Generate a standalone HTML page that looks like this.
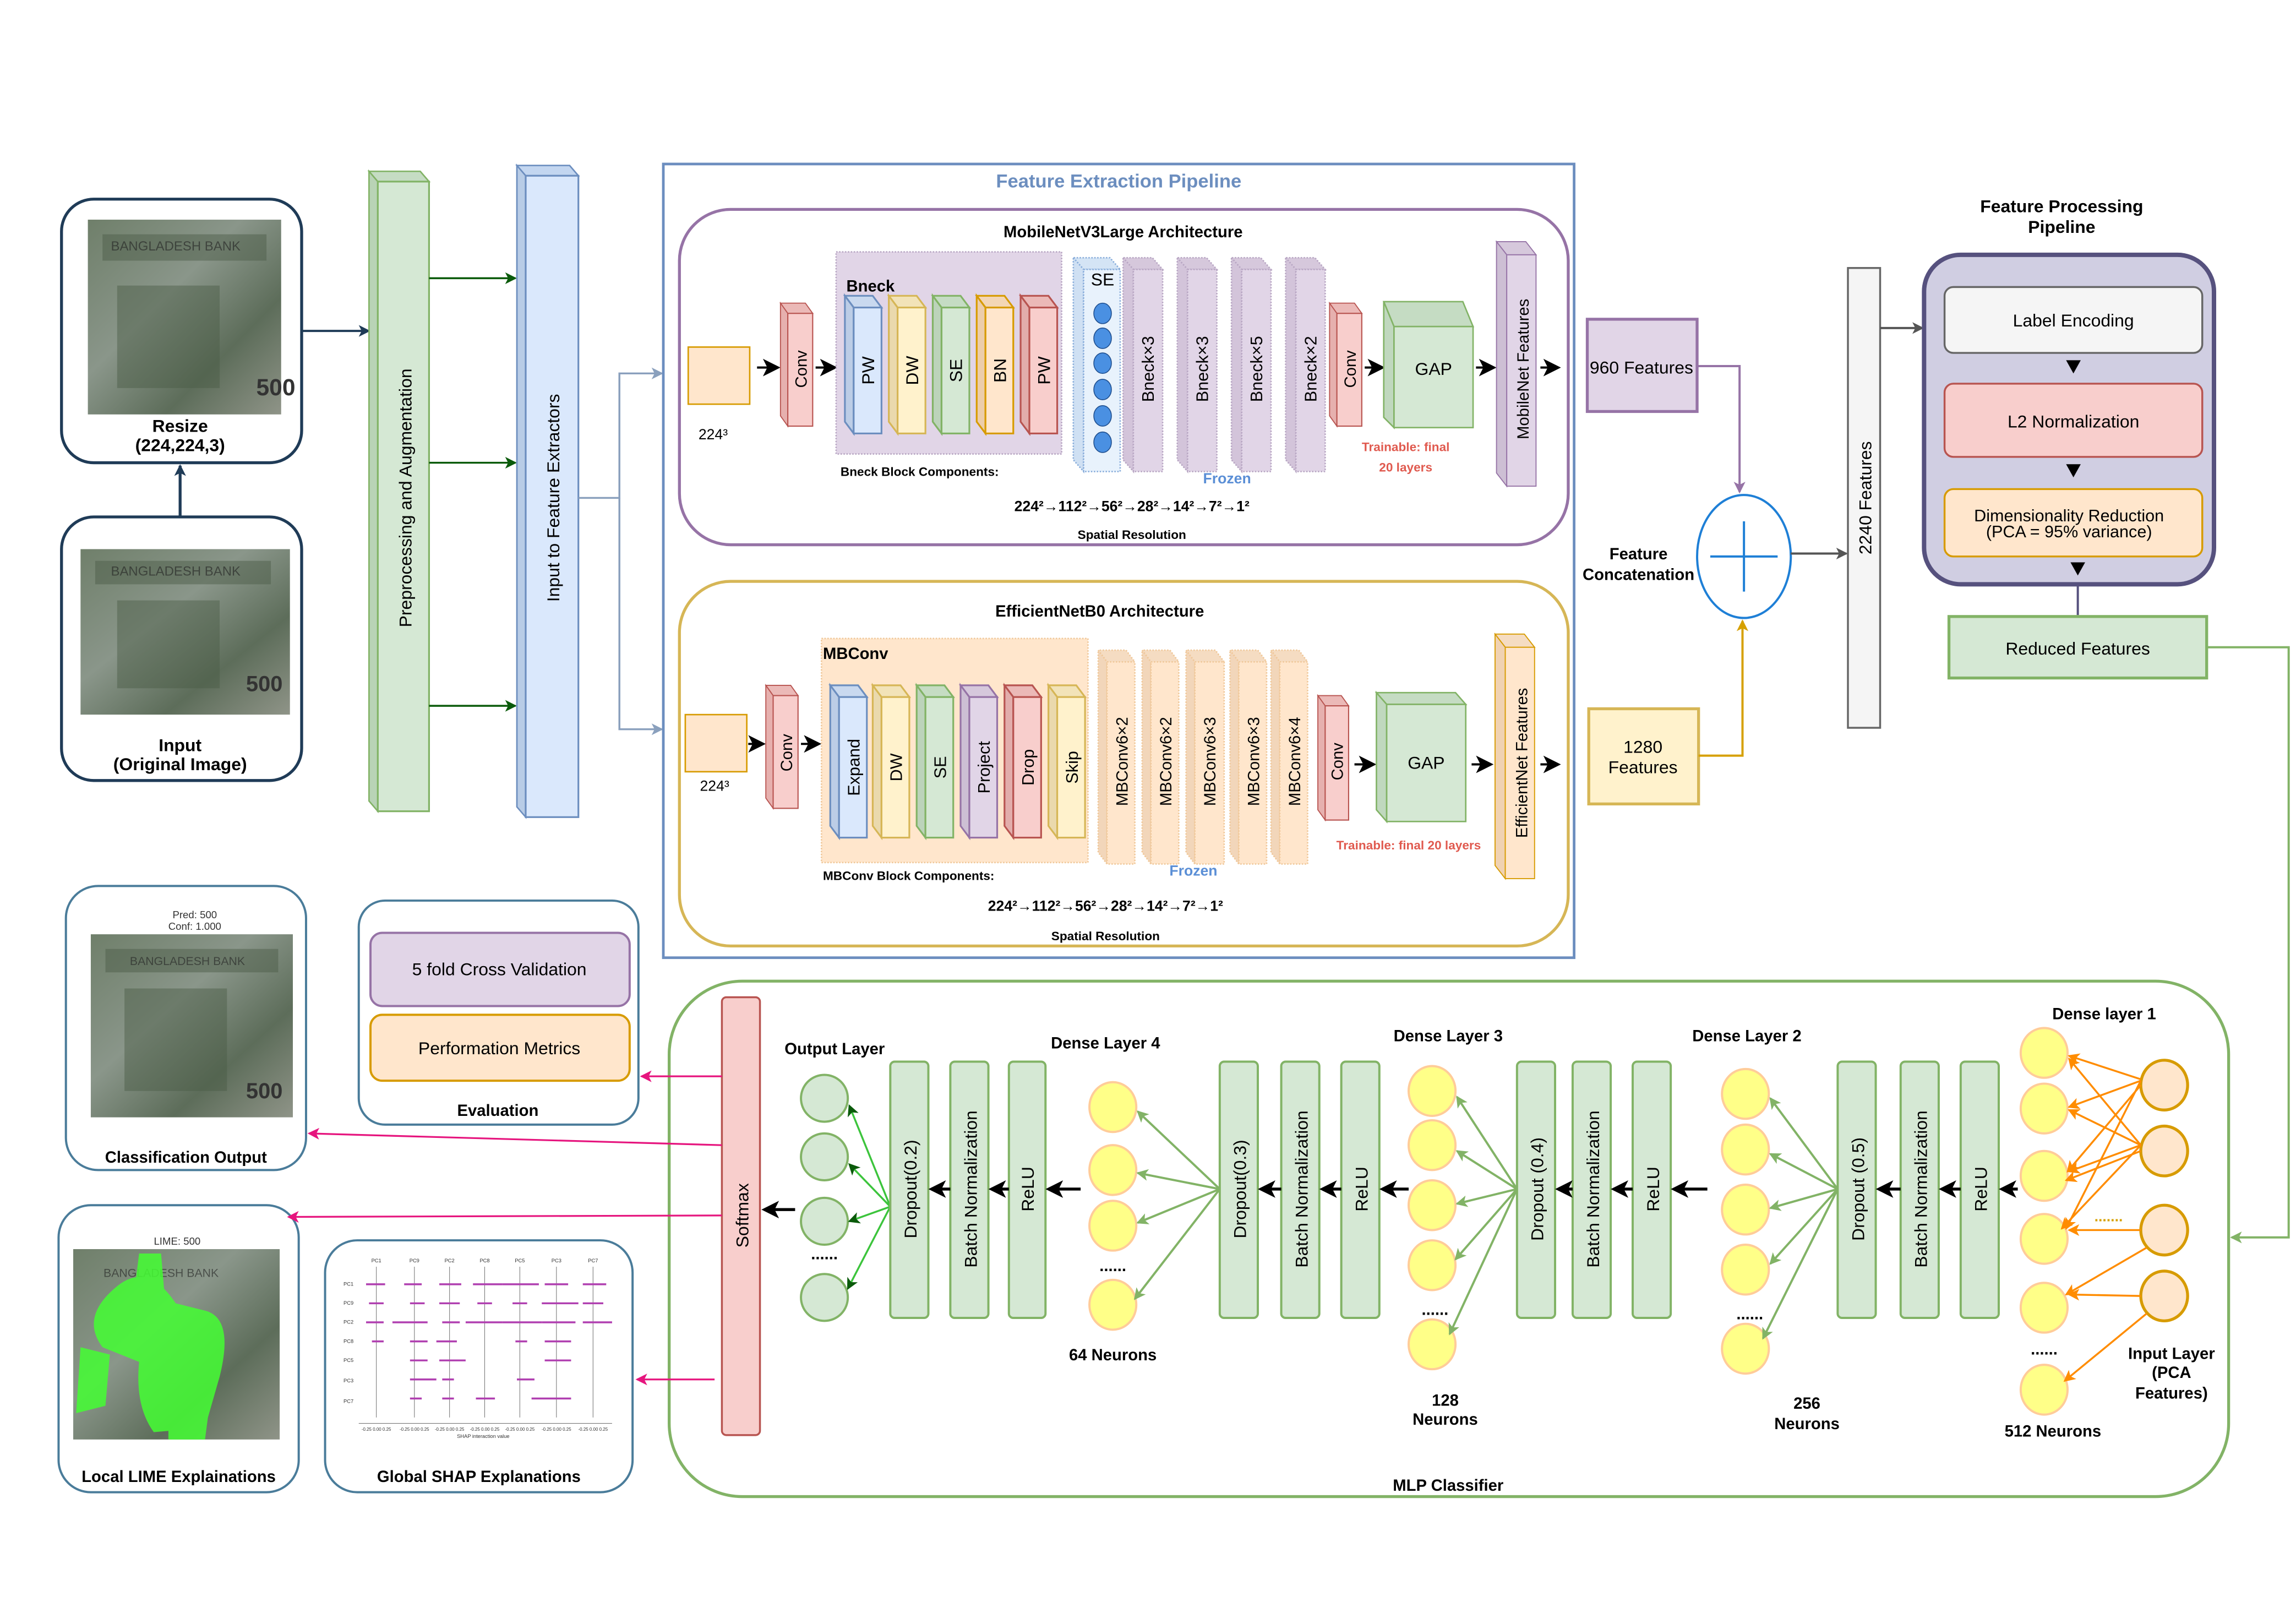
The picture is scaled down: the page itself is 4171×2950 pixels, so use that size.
<!DOCTYPE html>
<html><head><meta charset="utf-8"><style>
html,body{margin:0;padding:0;background:#fff;}
svg{display:block;}
text{font-family:"Liberation Sans",sans-serif;}
.b{font-weight:bold;}
</style></head><body>
<svg width="4171" height="2950" viewBox="0 0 1568 1109" xmlns="http://www.w3.org/2000/svg">
<defs>
<marker id="ak" markerWidth="8" markerHeight="8" refX="7" refY="4" orient="auto" markerUnits="userSpaceOnUse"><path d="M0,0 L8,4 L0,8 L2,4z" fill="#000"/></marker>
<marker id="ad" markerWidth="8" markerHeight="8" refX="7" refY="4" orient="auto" markerUnits="userSpaceOnUse"><path d="M0,0 L8,4 L0,8 L2,4z" fill="#1f3b57"/></marker>
<marker id="ag" markerWidth="8" markerHeight="8" refX="7" refY="4" orient="auto" markerUnits="userSpaceOnUse"><path d="M0,0 L8,4 L0,8 L2,4z" fill="#0a5a0a"/></marker>
<marker id="ab" markerWidth="8" markerHeight="8" refX="7" refY="4" orient="auto" markerUnits="userSpaceOnUse"><path d="M0,0 L8,4 L0,8 L2,4z" fill="#8aa0bd"/></marker>
<marker id="ap" markerWidth="8" markerHeight="8" refX="7" refY="4" orient="auto" markerUnits="userSpaceOnUse"><path d="M0,0 L8,4 L0,8 L2,4z" fill="#9673a6"/></marker>
<marker id="ay" markerWidth="8" markerHeight="8" refX="7" refY="4" orient="auto" markerUnits="userSpaceOnUse"><path d="M0,0 L8,4 L0,8 L2,4z" fill="#d6a000"/></marker>
<marker id="agr" markerWidth="8" markerHeight="8" refX="7" refY="4" orient="auto" markerUnits="userSpaceOnUse"><path d="M0,0 L8,4 L0,8 L2,4z" fill="#555"/></marker>
<marker id="al" markerWidth="8" markerHeight="8" refX="7" refY="4" orient="auto" markerUnits="userSpaceOnUse"><path d="M0,0 L8,4 L0,8 L2,4z" fill="#82b366"/></marker>
<marker id="ao" markerWidth="8" markerHeight="8" refX="7" refY="4" orient="auto" markerUnits="userSpaceOnUse"><path d="M0,0 L8,4 L0,8 L2,4z" fill="#ff8c00"/></marker>
<marker id="am" markerWidth="8" markerHeight="8" refX="7" refY="4" orient="auto" markerUnits="userSpaceOnUse"><path d="M0,0 L8,4 L0,8 L2,4z" fill="#e6157e"/></marker>
<marker id="abig" markerWidth="12" markerHeight="12" refX="10" refY="6" orient="auto" markerUnits="userSpaceOnUse"><path d="M0,0 L12,6 L0,12 L3,6z" fill="#000"/></marker>
<linearGradient id="note" x1="0" y1="0" x2="1" y2="1"><stop offset="0" stop-color="#6f7f6a"/><stop offset="0.4" stop-color="#8a968a"/><stop offset="0.7" stop-color="#5d6d5a"/><stop offset="1" stop-color="#8f9488"/></linearGradient>
</defs>

<!-- Resize / Input -->
<rect x="42" y="136" width="164" height="180" rx="22" fill="#fff" stroke="#1f3b57" stroke-width="2"/>
<rect x="60" y="150" width="132" height="133" fill="url(#note)"/>
<rect x="70" y="160" width="112" height="18" fill="#4d5d4a" opacity="0.5"/>
<text x="120" y="171" font-size="9" fill="#222" opacity="0.6" text-anchor="middle">BANGLADESH BANK</text>
<rect x="80" y="195" width="70" height="70" fill="#4a5a44" opacity="0.45"/>
<text x="175" y="270" font-size="16" fill="#333" class="b">500</text>
<text x="123" y="295" font-size="12" class="b" text-anchor="middle">Resize</text>
<text x="123" y="308" font-size="12" class="b" text-anchor="middle">(224,224,3)</text>

<rect x="42" y="353" width="164" height="180" rx="22" fill="#fff" stroke="#1f3b57" stroke-width="2"/>
<rect x="55" y="375" width="143" height="113" fill="url(#note)"/>
<rect x="65" y="383" width="120" height="16" fill="#4d5d4a" opacity="0.5"/>
<text x="120" y="393" font-size="9" fill="#222" opacity="0.6" text-anchor="middle">BANGLADESH BANK</text>
<rect x="80" y="410" width="70" height="60" fill="#4a5a44" opacity="0.45"/>
<text x="168" y="472" font-size="15" fill="#333" class="b">500</text>
<text x="123" y="513" font-size="12" class="b" text-anchor="middle">Input</text>
<text x="123" y="526" font-size="12" class="b" text-anchor="middle">(Original Image)</text>
<line x1="123" y1="353" x2="123" y2="318" stroke="#1f3b57" stroke-width="2" marker-end="url(#ad)"/>
<line x1="206" y1="226" x2="252" y2="226" stroke="#1f3b57" stroke-width="1.5" marker-end="url(#ad)"/>

<!-- Preprocessing bar -->
<polygon points="252,117 258,124 293,124 287,117" fill="#c5dcc3" stroke="#82b366"/>
<polygon points="252,117 258,124 258,554 252,547" fill="#b9d3b6" stroke="#82b366"/>
<rect x="258" y="124" width="35" height="430" fill="#d5e8d4" stroke="#82b366" stroke-width="1.2"/>
<text transform="translate(281,340) rotate(-90)" font-size="12" text-anchor="middle">Preprocessing and Augmentation</text>
<line x1="293" y1="190" x2="352" y2="190" stroke="#0a5a0a" stroke-width="1.3" marker-end="url(#ag)"/>
<line x1="293" y1="316" x2="352" y2="316" stroke="#0a5a0a" stroke-width="1.3" marker-end="url(#ag)"/>
<line x1="293" y1="482" x2="352" y2="482" stroke="#0a5a0a" stroke-width="1.3" marker-end="url(#ag)"/>

<!-- Input to Feature Extractors -->
<polygon points="353,113 359,120 395,120 389,113" fill="#c3d6f0" stroke="#6c8ebf"/>
<polygon points="353,113 359,120 359,558 353,551" fill="#b8cce6" stroke="#6c8ebf"/>
<rect x="359" y="120" width="36" height="438" fill="#dae8fc" stroke="#6c8ebf" stroke-width="1.2"/>
<text transform="translate(382,340) rotate(-90)" font-size="12" text-anchor="middle">Input to Feature Extractors</text>
<polyline points="395,340 423,340 423,255 452,255" fill="none" stroke="#8aa0bd" stroke-width="1.3" marker-end="url(#ab)"/>
<polyline points="423,340 423,498 452,498" fill="none" stroke="#8aa0bd" stroke-width="1.3" marker-end="url(#ab)"/>

<!-- Feature Extraction Pipeline -->
<rect x="453" y="112" width="622" height="542" fill="none" stroke="#6c8ebf" stroke-width="1.8"/>
<text x="764" y="128" font-size="13" fill="#6c8ebf" class="b" text-anchor="middle">Feature Extraction Pipeline</text>

<!-- MobileNet -->
<rect x="464" y="143" width="607" height="229" rx="35" fill="#fff" stroke="#9673a6" stroke-width="2"/>
<text x="767" y="162" font-size="11" class="b" text-anchor="middle">MobileNetV3Large Architecture</text>
<rect x="470" y="237" width="42" height="39" fill="#ffe6cc" stroke="#d79b00"/>
<text x="487" y="300" font-size="10" text-anchor="middle">224³</text>
<line x1="517" y1="251" x2="531" y2="251" stroke="#000" stroke-width="1.5" marker-end="url(#abig)"/>
<!-- Conv -->
<polygon points="533,207 538,214 555,214 550,207" fill="#ebb9b7" stroke="#b85450" stroke-width="0.7"/>
<polygon points="533,207 538,214 538,291 533,284" fill="#e6b0ae" stroke="#b85450" stroke-width="0.7"/>
<rect x="538" y="214" width="17" height="77" fill="#f8cecc" stroke="#b85450" stroke-width="0.8"/>
<text transform="translate(551,252) rotate(-90)" font-size="11" text-anchor="middle">Conv</text>
<line x1="557" y1="251" x2="570" y2="251" stroke="#000" stroke-width="1.5" marker-end="url(#abig)"/>
<rect x="571" y="172" width="154" height="138" fill="#e1d5e7" stroke="#b9a7c4" stroke-dasharray="1,1"/>
<text x="578" y="199" font-size="11" class="b">Bneck</text>
<!-- Bneck components -->
<g stroke-width="1.2">
<polygon points="577,202 583,210 602,210 596,202" fill="#c9d9ef" stroke="#6c8ebf"/><polygon points="577,202 583,210 583,296 577,288" fill="#bccde6" stroke="#6c8ebf"/><rect x="583" y="210" width="19" height="86" fill="#dae8fc" stroke="#6c8ebf"/>
<polygon points="607,202 613,210 632,210 626,202" fill="#f2e3b8" stroke="#d6b656"/><polygon points="607,202 613,210 613,296 607,288" fill="#ead9ad" stroke="#d6b656"/><rect x="613" y="210" width="19" height="86" fill="#fff2cc" stroke="#d6b656"/>
<polygon points="637,202 643,210 662,210 656,202" fill="#c5dcc3" stroke="#82b366"/><polygon points="637,202 643,210 643,296 637,288" fill="#bcd3ba" stroke="#82b366"/><rect x="643" y="210" width="19" height="86" fill="#d5e8d4" stroke="#82b366"/>
<polygon points="667,202 673,210 692,210 686,202" fill="#f3d6b5" stroke="#d79b00"/><polygon points="667,202 673,210 673,296 667,288" fill="#eccdaa" stroke="#d79b00"/><rect x="673" y="210" width="19" height="86" fill="#ffe6cc" stroke="#d79b00"/>
<polygon points="697,202 703,210 722,210 716,202" fill="#ebb9b7" stroke="#b85450"/><polygon points="697,202 703,210 703,296 697,288" fill="#e2adab" stroke="#b85450"/><rect x="703" y="210" width="19" height="86" fill="#f8cecc" stroke="#b85450"/>
</g>
<g font-size="12" text-anchor="middle">
<text transform="translate(597,253) rotate(-90)">PW</text>
<text transform="translate(627,253) rotate(-90)">DW</text>
<text transform="translate(657,253) rotate(-90)">SE</text>
<text transform="translate(687,253) rotate(-90)">BN</text>
<text transform="translate(717,253) rotate(-90)">PW</text>
</g>
<!-- SE column -->
<polygon points="733,176 740,184 765,184 758,176" fill="#d4e4f5" stroke="#8aaedb" stroke-dasharray="1,1"/>
<polygon points="733,176 740,184 740,322 733,314" fill="#cfe0f3" stroke="#8aaedb" stroke-dasharray="1,1"/>
<rect x="740" y="184" width="25" height="138" fill="#e8f2fc" stroke="#8aaedb" stroke-dasharray="1,1"/>
<text x="753" y="195" font-size="12" text-anchor="middle">SE</text>
<g fill="#4a90e2" stroke="#1f4f8f" stroke-width="0.6">
<ellipse cx="753" cy="214" rx="6" ry="7"/><ellipse cx="753" cy="231" rx="6" ry="7"/><ellipse cx="753" cy="248" rx="6" ry="7"/><ellipse cx="753" cy="266" rx="6" ry="7"/><ellipse cx="753" cy="284" rx="6" ry="7"/><ellipse cx="753" cy="302" rx="6" ry="7"/>
</g>
<!-- Bneck x N -->
<g fill="#e1d5e7" stroke="#b9a7c4" stroke-dasharray="1,1">
<polygon points="767,176 774,184 794,184 787,176" fill="#d6c8dc"/><polygon points="767,176 774,184 774,322 767,314" fill="#d3c4da"/><rect x="774" y="184" width="20" height="138"/>
<polygon points="804,176 811,184 831,184 824,176" fill="#d6c8dc"/><polygon points="804,176 811,184 811,322 804,314" fill="#d3c4da"/><rect x="811" y="184" width="20" height="138"/>
<polygon points="841,176 848,184 868,184 861,176" fill="#d6c8dc"/><polygon points="841,176 848,184 848,322 841,314" fill="#d3c4da"/><rect x="848" y="184" width="20" height="138"/>
<polygon points="878,176 885,184 905,184 898,176" fill="#d6c8dc"/><polygon points="878,176 885,184 885,322 878,314" fill="#d3c4da"/><rect x="885" y="184" width="20" height="138"/>
</g>
<g font-size="11.5" text-anchor="middle">
<text transform="translate(788,252) rotate(-90)">Bneck×3</text>
<text transform="translate(825,252) rotate(-90)">Bneck×3</text>
<text transform="translate(862,252) rotate(-90)">Bneck×5</text>
<text transform="translate(899,252) rotate(-90)">Bneck×2</text>
</g>
<text x="838" y="330" font-size="10" fill="#5b8fd6" class="b" text-anchor="middle">Frozen</text>
<polygon points="908,207 913,214 930,214 925,207" fill="#ebb9b7" stroke="#b85450" stroke-width="0.7"/>
<polygon points="908,207 913,214 913,291 908,284" fill="#e6b0ae" stroke="#b85450" stroke-width="0.7"/>
<rect x="913" y="214" width="17" height="77" fill="#f8cecc" stroke="#b85450" stroke-width="0.8"/>
<text transform="translate(926,252) rotate(-90)" font-size="11" text-anchor="middle">Conv</text>
<line x1="932" y1="251" x2="944" y2="251" stroke="#000" stroke-width="1.5" marker-end="url(#abig)"/>
<polygon points="945,206 952,223 1006,223 999,206" fill="#c5dcc3" stroke="#82b366"/>
<polygon points="945,206 952,223 952,292 945,285" fill="#c0d8be" stroke="#82b366"/>
<rect x="952" y="223" width="54" height="69" fill="#d5e8d4" stroke="#82b366"/>
<text x="979" y="256" font-size="12" text-anchor="middle">GAP</text>
<line x1="1008" y1="251" x2="1020" y2="251" stroke="#000" stroke-width="1.5" marker-end="url(#abig)"/>
<text x="960" y="308" font-size="8.5" fill="#e05a4f" class="b" text-anchor="middle">Trainable: final</text>
<text x="960" y="322" font-size="8.5" fill="#e05a4f" class="b" text-anchor="middle">20 layers</text>
<polygon points="1022,165 1029,174 1049,174 1042,165" fill="#d6c8dc" stroke="#9673a6" stroke-width="0.7"/>
<polygon points="1022,165 1029,174 1029,332 1022,323" fill="#cdbfd4" stroke="#9673a6" stroke-width="0.7"/>
<rect x="1029" y="174" width="20" height="158" fill="#e1d5e7" stroke="#9673a6" stroke-width="0.7"/>
<text transform="translate(1044,252) rotate(-90)" font-size="11" text-anchor="middle">MobileNet Features</text>
<line x1="1052" y1="251" x2="1064" y2="251" stroke="#000" stroke-width="1.5" marker-end="url(#abig)"/>
<text x="574" y="325" font-size="8.5" class="b">Bneck Block Components:</text>
<text x="773" y="349" font-size="10" class="b" text-anchor="middle">224²→112²→56²→28²→14²→7²→1²</text>
<text x="773" y="368" font-size="8.5" class="b" text-anchor="middle">Spatial Resolution</text>

<!-- EfficientNet -->
<rect x="464" y="397" width="607" height="249" rx="35" fill="#fff" stroke="#d6b656" stroke-width="2"/>
<text x="751" y="421" font-size="11" class="b" text-anchor="middle">EfficientNetB0 Architecture</text>
<rect x="468" y="488" width="42" height="39" fill="#ffe6cc" stroke="#d79b00"/>
<text x="488" y="540" font-size="10" text-anchor="middle">224³</text>
<line x1="511" y1="508" x2="521" y2="508" stroke="#000" stroke-width="1.5" marker-end="url(#abig)"/>
<polygon points="523,468 528,475 545,475 540,468" fill="#ebb9b7" stroke="#b85450" stroke-width="0.7"/>
<polygon points="523,468 528,475 528,552 523,545" fill="#e6b0ae" stroke="#b85450" stroke-width="0.7"/>
<rect x="528" y="475" width="17" height="77" fill="#f8cecc" stroke="#b85450" stroke-width="0.8"/>
<text transform="translate(541,514) rotate(-90)" font-size="11" text-anchor="middle">Conv</text>
<line x1="547" y1="508" x2="559" y2="508" stroke="#000" stroke-width="1.5" marker-end="url(#abig)"/>
<rect x="561" y="436" width="182" height="153" fill="#ffe6cc" stroke="#f0c89a" stroke-dasharray="1,1"/>
<text x="562" y="450" font-size="11" class="b">MBConv</text>
<g stroke-width="1.2">
<polygon points="567,468 573,476 592,476 586,468" fill="#c9d9ef" stroke="#6c8ebf"/><polygon points="567,468 573,476 573,572 567,564" fill="#bccde6" stroke="#6c8ebf"/><rect x="573" y="476" width="19" height="96" fill="#dae8fc" stroke="#6c8ebf"/>
<polygon points="596,468 602,476 621,476 615,468" fill="#f2e3b8" stroke="#d6b656"/><polygon points="596,468 602,476 602,572 596,564" fill="#ead9ad" stroke="#d6b656"/><rect x="602" y="476" width="19" height="96" fill="#fff2cc" stroke="#d6b656"/>
<polygon points="626,468 632,476 651,476 645,468" fill="#c5dcc3" stroke="#82b366"/><polygon points="626,468 632,476 632,572 626,564" fill="#bcd3ba" stroke="#82b366"/><rect x="632" y="476" width="19" height="96" fill="#d5e8d4" stroke="#82b366"/>
<polygon points="656,468 662,476 681,476 675,468" fill="#d6c8dc" stroke="#9673a6"/><polygon points="656,468 662,476 662,572 656,564" fill="#cdbfd4" stroke="#9673a6"/><rect x="662" y="476" width="19" height="96" fill="#e1d5e7" stroke="#9673a6"/>
<polygon points="686,468 692,476 711,476 705,468" fill="#ebb9b7" stroke="#b85450"/><polygon points="686,468 692,476 692,572 686,564" fill="#e2adab" stroke="#b85450"/><rect x="692" y="476" width="19" height="96" fill="#f8cecc" stroke="#b85450"/>
<polygon points="716,468 722,476 741,476 735,468" fill="#f2e3b8" stroke="#d6b656"/><polygon points="716,468 722,476 722,572 716,564" fill="#ead9ad" stroke="#d6b656"/><rect x="722" y="476" width="19" height="96" fill="#fff2cc" stroke="#d6b656"/>
</g>
<g font-size="11.5" text-anchor="middle">
<text transform="translate(587,524) rotate(-90)">Expand</text>
<text transform="translate(616,524) rotate(-90)">DW</text>
<text transform="translate(646,524) rotate(-90)">SE</text>
<text transform="translate(676,524) rotate(-90)">Project</text>
<text transform="translate(706,524) rotate(-90)">Drop</text>
<text transform="translate(736,524) rotate(-90)">Skip</text>
</g>
<g fill="#ffe6cc" stroke="#f0c89a" stroke-dasharray="1,1">
<polygon points="750,444 756,452 775,452 769,444" fill="#f5dcc2"/><polygon points="750,444 756,452 756,590 750,582" fill="#f2d6ba"/><rect x="756" y="452" width="19" height="138"/>
<polygon points="780,444 786,452 805,452 799,444" fill="#f5dcc2"/><polygon points="780,444 786,452 786,590 780,582" fill="#f2d6ba"/><rect x="786" y="452" width="19" height="138"/>
<polygon points="810,444 816,452 836,452 830,444" fill="#f5dcc2"/><polygon points="810,444 816,452 816,590 810,582" fill="#f2d6ba"/><rect x="816" y="452" width="20" height="138"/>
<polygon points="840,444 846,452 865,452 859,444" fill="#f5dcc2"/><polygon points="840,444 846,452 846,590 840,582" fill="#f2d6ba"/><rect x="846" y="452" width="19" height="138"/>
<polygon points="868,444 874,452 893,452 887,444" fill="#f5dcc2"/><polygon points="868,444 874,452 874,590 868,582" fill="#f2d6ba"/><rect x="874" y="452" width="19" height="138"/>
</g>
<g font-size="11" text-anchor="middle">
<text transform="translate(770,520) rotate(-90)">MBConv6×2</text>
<text transform="translate(800,520) rotate(-90)">MBConv6×2</text>
<text transform="translate(830,520) rotate(-90)">MBConv6×3</text>
<text transform="translate(860,520) rotate(-90)">MBConv6×3</text>
<text transform="translate(888,520) rotate(-90)">MBConv6×4</text>
</g>
<text x="815" y="598" font-size="10" fill="#5b8fd6" class="b" text-anchor="middle">Frozen</text>
<polygon points="900,475 905,482 921,482 916,475" fill="#ebb9b7" stroke="#b85450" stroke-width="0.7"/>
<polygon points="900,475 905,482 905,560 900,553" fill="#e6b0ae" stroke="#b85450" stroke-width="0.7"/>
<rect x="905" y="482" width="16" height="78" fill="#f8cecc" stroke="#b85450" stroke-width="0.8"/>
<text transform="translate(917,520) rotate(-90)" font-size="11" text-anchor="middle">Conv</text>
<line x1="925" y1="522" x2="938" y2="522" stroke="#000" stroke-width="1.5" marker-end="url(#abig)"/>
<polygon points="940,473 947,481 1001,481 994,473" fill="#c5dcc3" stroke="#82b366"/>
<polygon points="940,473 947,481 947,561 940,553" fill="#c0d8be" stroke="#82b366"/>
<rect x="947" y="481" width="54" height="80" fill="#d5e8d4" stroke="#82b366"/>
<text x="974" y="525" font-size="12" text-anchor="middle">GAP</text>
<line x1="1005" y1="522" x2="1018" y2="522" stroke="#000" stroke-width="1.5" marker-end="url(#abig)"/>
<text x="962" y="580" font-size="8.5" fill="#e05a4f" class="b" text-anchor="middle">Trainable: final 20 layers</text>
<polygon points="1021,433 1028,442 1048,442 1041,433" fill="#f5dcc2" stroke="#d79b00" stroke-width="0.7"/>
<polygon points="1021,433 1028,442 1028,600 1021,591" fill="#f0d2b2" stroke="#d79b00" stroke-width="0.7"/>
<rect x="1028" y="442" width="20" height="158" fill="#ffe6cc" stroke="#d79b00" stroke-width="0.7"/>
<text transform="translate(1043,521) rotate(-90)" font-size="11" text-anchor="middle">EfficientNet Features</text>
<line x1="1052" y1="522" x2="1064" y2="522" stroke="#000" stroke-width="1.5" marker-end="url(#abig)"/>
<text x="562" y="601" font-size="8.5" class="b">MBConv Block Components:</text>
<text x="755" y="622" font-size="10" class="b" text-anchor="middle">224²→112²→56²→28²→14²→7²→1²</text>
<text x="755" y="642" font-size="8.5" class="b" text-anchor="middle">Spatial Resolution</text>

<!-- Features / concat -->
<rect x="1084" y="218" width="75" height="63" fill="#e1d5e7" stroke="#9673a6" stroke-width="2"/>
<text x="1121" y="255" font-size="12" text-anchor="middle">960 Features</text>
<polyline points="1159,250 1188,250 1188,336" fill="none" stroke="#9673a6" stroke-width="1.5" marker-end="url(#ap)"/>
<rect x="1085" y="484" width="75" height="65" fill="#fff2cc" stroke="#d6b656" stroke-width="2"/>
<text x="1122" y="514" font-size="12" text-anchor="middle">1280</text>
<text x="1122" y="528" font-size="12" text-anchor="middle">Features</text>
<polyline points="1160,516 1190,516 1190,424" fill="none" stroke="#d6a000" stroke-width="1.5" marker-end="url(#ay)"/>
<ellipse cx="1191" cy="380" rx="32" ry="42" fill="#fff" stroke="#1e7fd6" stroke-width="1.5"/>
<line x1="1191" y1="356" x2="1191" y2="404" stroke="#1e7fd6" stroke-width="1.5"/>
<line x1="1168" y1="380" x2="1214" y2="380" stroke="#1e7fd6" stroke-width="1.5"/>
<text x="1119" y="382" font-size="11" class="b" text-anchor="middle">Feature</text>
<text x="1119" y="396" font-size="11" class="b" text-anchor="middle">Concatenation</text>
<line x1="1223" y1="378" x2="1261" y2="378" stroke="#555" stroke-width="1.5" marker-end="url(#agr)"/>
<rect x="1262" y="183" width="22" height="314" fill="#f5f5f5" stroke="#666" stroke-width="1.3"/>
<text transform="translate(1278,340) rotate(-90)" font-size="12" text-anchor="middle">2240 Features</text>
<line x1="1284" y1="224" x2="1313" y2="224" stroke="#555" stroke-width="1.5" marker-end="url(#agr)"/>

<!-- Feature processing -->
<text x="1408" y="145" font-size="12" class="b" text-anchor="middle">Feature Processing</text>
<text x="1408" y="159" font-size="12" class="b" text-anchor="middle">Pipeline</text>
<rect x="1314" y="174" width="198" height="225" rx="25" fill="#d0cee2" stroke="#56517e" stroke-width="3"/>
<rect x="1328" y="196" width="176" height="45" rx="6" fill="#f5f5f5" stroke="#666" stroke-width="1.3"/>
<text x="1416" y="223" font-size="12" text-anchor="middle">Label Encoding</text>
<path d="M1411,246 L1421,246 L1416,255z" fill="#000"/>
<rect x="1328" y="262" width="176" height="50" rx="6" fill="#f8cecc" stroke="#b85450" stroke-width="1.3"/>
<text x="1416" y="292" font-size="12" text-anchor="middle">L2 Normalization</text>
<path d="M1411,317 L1421,317 L1416,326z" fill="#000"/>
<rect x="1328" y="334" width="176" height="46" rx="6" fill="#ffe6cc" stroke="#d79b00" stroke-width="1.3"/>
<text x="1413" y="356" font-size="11.5" text-anchor="middle">Dimensionality Reduction</text>
<text x="1413" y="367" font-size="11.5" text-anchor="middle">(PCA = 95% variance)</text>
<path d="M1414,384 L1424,384 L1419,393z" fill="#000"/>
<line x1="1419" y1="399" x2="1419" y2="420" stroke="#56517e" stroke-width="1.5"/>
<rect x="1331" y="421" width="176" height="42" fill="#d5e8d4" stroke="#82b366" stroke-width="2"/>
<text x="1419" y="447" font-size="12" text-anchor="middle">Reduced Features</text>
<polyline points="1507,442 1563,442 1563,845 1524,845" fill="none" stroke="#82b366" stroke-width="1.5" marker-end="url(#al)"/>

<!-- MLP -->
<rect x="457" y="670" width="1065" height="352" rx="50" fill="#fff" stroke="#82b366" stroke-width="2"/>
<text x="989" y="1018" font-size="11" class="b" text-anchor="middle">MLP Classifier</text>
<rect x="493" y="681" width="26" height="299" rx="3" fill="#f8cecc" stroke="#b85450" stroke-width="1.3"/>
<text transform="translate(511,830) rotate(-90)" font-size="12" text-anchor="middle">Softmax</text>
<line x1="543" y1="826" x2="522" y2="826" stroke="#000" stroke-width="2" marker-end="url(#abig)"/>

<text x="570" y="720" font-size="11" class="b" text-anchor="middle">Output Layer</text>
<g fill="#d5e8d4" stroke="#82b366" stroke-width="1.5">
<ellipse cx="563" cy="750" rx="16" ry="16"/><ellipse cx="563" cy="790" rx="16" ry="16"/><ellipse cx="563" cy="834" rx="16" ry="16"/><ellipse cx="563" cy="886" rx="16" ry="16"/>
</g>
<text x="563" y="860" font-size="11" class="b" text-anchor="middle">......</text>
<g stroke="#3cc43c" stroke-width="1.3" marker-end="url(#ag)">
<line x1="608" y1="824" x2="580" y2="755"/><line x1="608" y1="824" x2="580" y2="795"/><line x1="608" y1="824" x2="580" y2="834"/><line x1="608" y1="824" x2="579" y2="880"/>
</g>

<!-- green bars -->
<g fill="#d5e8d4" stroke="#82b366" stroke-width="1.5">
<rect x="608" y="725" width="26" height="175" rx="3"/><rect x="649" y="725" width="26" height="175" rx="3"/><rect x="689" y="725" width="25" height="175" rx="3"/>
<rect x="833" y="725" width="26" height="175" rx="3"/><rect x="875" y="725" width="26" height="175" rx="3"/><rect x="916" y="725" width="26" height="175" rx="3"/>
<rect x="1036" y="725" width="26" height="175" rx="3"/><rect x="1074" y="725" width="26" height="175" rx="3"/><rect x="1115" y="725" width="26" height="175" rx="3"/>
<rect x="1255" y="725" width="26" height="175" rx="3"/><rect x="1298" y="725" width="26" height="175" rx="3"/><rect x="1339" y="725" width="26" height="175" rx="3"/>
</g>
<g font-size="12" text-anchor="middle">
<text transform="translate(626,812) rotate(-90)">Dropout(0.2)</text>
<text transform="translate(667,812) rotate(-90)">Batch Normalization</text>
<text transform="translate(706,812) rotate(-90)">ReLU</text>
<text transform="translate(851,812) rotate(-90)">Dropout(0.3)</text>
<text transform="translate(893,812) rotate(-90)">Batch Normalization</text>
<text transform="translate(934,812) rotate(-90)">ReLU</text>
<text transform="translate(1054,812) rotate(-90)">Dropout (0.4)</text>
<text transform="translate(1092,812) rotate(-90)">Batch Normalization</text>
<text transform="translate(1133,812) rotate(-90)">ReLU</text>
<text transform="translate(1273,812) rotate(-90)">Dropout (0.5)</text>
<text transform="translate(1316,812) rotate(-90)">Batch Normalization</text>
<text transform="translate(1357,812) rotate(-90)">ReLU</text>
</g>
<g stroke="#000" stroke-width="2" marker-end="url(#abig)">
<line x1="649" y1="812" x2="636" y2="812"/><line x1="689" y1="812" x2="677" y2="812"/><line x1="738" y1="812" x2="716" y2="812"/>
<line x1="875" y1="812" x2="861" y2="812"/><line x1="916" y1="812" x2="903" y2="812"/><line x1="962" y1="812" x2="944" y2="812"/>
<line x1="1074" y1="812" x2="1064" y2="812"/><line x1="1115" y1="812" x2="1102" y2="812"/><line x1="1166" y1="812" x2="1143" y2="812"/>
<line x1="1298" y1="812" x2="1283" y2="812"/><line x1="1339" y1="812" x2="1326" y2="812"/><line x1="1378" y1="812" x2="1367" y2="812"/>
</g>

<!-- yellow neurons -->
<g fill="#ffff88" stroke="#ffcc99" stroke-width="1.5">
<ellipse cx="760" cy="756" rx="16" ry="17"/><ellipse cx="760" cy="799" rx="16" ry="17"/><ellipse cx="760" cy="837" rx="16" ry="17"/><ellipse cx="760" cy="891" rx="16" ry="17"/>
<ellipse cx="978" cy="745" rx="16" ry="17"/><ellipse cx="978" cy="782" rx="16" ry="17"/><ellipse cx="978" cy="823" rx="16" ry="17"/><ellipse cx="978" cy="864" rx="16" ry="17"/><ellipse cx="978" cy="918" rx="16" ry="17"/>
<ellipse cx="1192" cy="747" rx="16" ry="17"/><ellipse cx="1192" cy="785" rx="16" ry="17"/><ellipse cx="1192" cy="826" rx="16" ry="17"/><ellipse cx="1192" cy="867" rx="16" ry="17"/><ellipse cx="1192" cy="921" rx="16" ry="17"/>
<ellipse cx="1396" cy="719" rx="16" ry="17"/><ellipse cx="1396" cy="757" rx="16" ry="17"/><ellipse cx="1396" cy="803" rx="16" ry="17"/><ellipse cx="1396" cy="846" rx="16" ry="17"/><ellipse cx="1396" cy="893" rx="16" ry="17"/><ellipse cx="1396" cy="949" rx="16" ry="17"/>
</g>
<g font-size="11" class="b" text-anchor="middle">
<text x="755" y="716">Dense Layer 4</text>
<text x="760" y="868">......</text>
<text x="760" y="929">64 Neurons</text>
<text x="989" y="711">Dense Layer 3</text>
<text x="980" y="898">......</text>
<text x="987" y="960">128</text><text x="987" y="973">Neurons</text>
<text x="1193" y="711">Dense Layer 2</text>
<text x="1195" y="901">......</text>
<text x="1234" y="962">256</text><text x="1234" y="976">Neurons</text>
<text x="1437" y="696">Dense layer 1</text>
<text x="1396" y="925">......</text>
<text x="1402" y="981">512 Neurons</text>
<text x="1483" y="928">Input Layer</text><text x="1483" y="941">(PCA</text><text x="1483" y="955">Features)</text>
</g>
<g stroke="#82b366" stroke-width="1.5" marker-end="url(#al)">
<line x1="833" y1="812" x2="777" y2="759"/><line x1="833" y1="812" x2="777" y2="801"/><line x1="833" y1="812" x2="777" y2="835"/><line x1="833" y1="812" x2="775" y2="887"/>
<line x1="1036" y1="812" x2="995" y2="749"/><line x1="1036" y1="812" x2="995" y2="786"/><line x1="1036" y1="812" x2="995" y2="822"/><line x1="1036" y1="812" x2="994" y2="860"/><line x1="1036" y1="812" x2="990" y2="911"/>
<line x1="1255" y1="812" x2="1209" y2="750"/><line x1="1255" y1="812" x2="1209" y2="788"/><line x1="1255" y1="812" x2="1209" y2="825"/><line x1="1255" y1="812" x2="1209" y2="863"/><line x1="1255" y1="812" x2="1204" y2="914"/>
</g>
<!-- input layer -->
<g fill="#ffe6cc" stroke="#d79b00" stroke-width="2">
<ellipse cx="1478" cy="741" rx="16" ry="17"/><ellipse cx="1478" cy="786" rx="16" ry="17"/><ellipse cx="1478" cy="840" rx="16" ry="17"/><ellipse cx="1478" cy="885" rx="16" ry="17"/>
</g>
<text x="1440" y="834" font-size="10" fill="#d6a000" class="b" text-anchor="middle">.......</text>
<g stroke="#ff8c00" stroke-width="1.3" marker-end="url(#ao)">
<line x1="1462" y1="737" x2="1413" y2="721"/><line x1="1462" y1="738" x2="1413" y2="756"/><line x1="1462" y1="738" x2="1411" y2="839"/>
<line x1="1462" y1="782" x2="1413" y2="723"/><line x1="1462" y1="782" x2="1413" y2="758"/><line x1="1462" y1="782" x2="1413" y2="800"/><line x1="1462" y1="782" x2="1408" y2="839"/>
<line x1="1462" y1="840" x2="1413" y2="840"/><line x1="1466" y1="852" x2="1411" y2="884"/>
<line x1="1462" y1="885" x2="1413" y2="884"/><line x1="1466" y1="897" x2="1410" y2="943"/>
<line x1="1462" y1="786" x2="1411" y2="806"/><line x1="1462" y1="741" x2="1412" y2="800"/>
</g>

<!-- Evaluation -->
<rect x="245" y="615" width="191" height="153" rx="18" fill="#fff" stroke="#4a7c9a" stroke-width="1.5"/>
<rect x="253" y="637" width="177" height="50" rx="8" fill="#e1d5e7" stroke="#9673a6" stroke-width="1.5"/>
<text x="341" y="666" font-size="12" text-anchor="middle">5 fold Cross Validation</text>
<rect x="253" y="693" width="177" height="45" rx="8" fill="#ffe6cc" stroke="#d79b00" stroke-width="1.5"/>
<text x="341" y="720" font-size="12" text-anchor="middle">Performation Metrics</text>
<text x="340" y="762" font-size="11" class="b" text-anchor="middle">Evaluation</text>

<!-- Classification output -->
<rect x="45" y="605" width="164" height="194" rx="22" fill="#fff" stroke="#4a7c9a" stroke-width="1.5"/>
<text x="133" y="627" font-size="7" text-anchor="middle" fill="#333">Pred: 500</text>
<text x="133" y="635" font-size="7" text-anchor="middle" fill="#333">Conf: 1.000</text>
<rect x="62" y="638" width="138" height="125" fill="url(#note)"/>
<rect x="72" y="648" width="118" height="16" fill="#4d5d4a" opacity="0.5"/>
<text x="128" y="659" font-size="8" fill="#222" opacity="0.6" text-anchor="middle">BANGLADESH BANK</text>
<rect x="85" y="675" width="70" height="70" fill="#4a5a44" opacity="0.45"/>
<text x="168" y="750" font-size="15" fill="#333" class="b">500</text>
<text x="127" y="794" font-size="11" class="b" text-anchor="middle">Classification Output</text>

<!-- LIME -->
<rect x="40" y="823" width="164" height="196" rx="22" fill="#fff" stroke="#4a7c9a" stroke-width="1.5"/>
<text x="121" y="850" font-size="7" text-anchor="middle" fill="#333">LIME: 500</text>
<rect x="50" y="853" width="141" height="130" fill="url(#note)"/>
<text x="110" y="872" font-size="8" fill="#222" opacity="0.6" text-anchor="middle">BANGLADESH BANK</text>
<g fill="#44ff33" opacity="0.85">
<path d="M78,880 Q100,860 120,890 L140,895 Q160,900 150,940 L140,975 L105,978 Q92,960 95,930 L70,920 Q55,900 78,880z"/>
<path d="M55,920 L75,925 L72,960 L52,965z"/>
<path d="M95,856 L110,856 L112,880 L92,880z"/>
<path d="M115,945 L145,945 L140,983 L115,983z"/>
</g>
<text x="122" y="1012" font-size="11" class="b" text-anchor="middle">Local LIME Explainations</text>

<!-- SHAP -->
<rect x="222" y="847" width="210" height="172" rx="22" fill="#fff" stroke="#4a7c9a" stroke-width="1.5"/>
<g font-size="3.5" fill="#333" text-anchor="middle">
<text x="257" y="862">PC1</text><text x="283" y="862">PC9</text><text x="307" y="862">PC2</text><text x="331" y="862">PC8</text><text x="355" y="862">PC5</text><text x="380" y="862">PC3</text><text x="405" y="862">PC7</text>
<text x="238" y="878">PC1</text><text x="238" y="891">PC9</text><text x="238" y="904">PC2</text><text x="238" y="917">PC8</text><text x="238" y="930">PC5</text><text x="238" y="944">PC3</text><text x="238" y="958">PC7</text>
<text x="330" y="982">SHAP interaction value</text>
</g>
<g stroke="#777" stroke-width="0.4">
<line x1="257" y1="865" x2="257" y2="968"/><line x1="283" y1="865" x2="283" y2="968"/><line x1="307" y1="865" x2="307" y2="968"/><line x1="331" y1="865" x2="331" y2="968"/><line x1="355" y1="865" x2="355" y2="968"/><line x1="380" y1="865" x2="380" y2="968"/><line x1="405" y1="865" x2="405" y2="968"/>
<line x1="245" y1="972" x2="418" y2="972"/>
</g>
<g stroke="#b03fb0" stroke-width="1.3">
<line x1="250" y1="877" x2="263" y2="877"/><line x1="276" y1="877" x2="288" y2="877"/><line x1="300" y1="877" x2="315" y2="877"/><line x1="323" y1="877" x2="343" y2="877"/><line x1="343" y1="877" x2="368" y2="877"/><line x1="372" y1="877" x2="388" y2="877"/><line x1="398" y1="877" x2="414" y2="877"/>
<line x1="252" y1="890" x2="262" y2="890"/><line x1="280" y1="890" x2="290" y2="890"/><line x1="300" y1="890" x2="314" y2="890"/><line x1="326" y1="890" x2="336" y2="890"/><line x1="350" y1="890" x2="360" y2="890"/><line x1="370" y1="890" x2="395" y2="890"/><line x1="398" y1="890" x2="412" y2="890"/>
<line x1="250" y1="903" x2="262" y2="903"/><line x1="268" y1="903" x2="292" y2="903"/><line x1="302" y1="903" x2="314" y2="903"/><line x1="318" y1="903" x2="343" y2="903"/><line x1="343" y1="903" x2="370" y2="903"/><line x1="370" y1="903" x2="393" y2="903"/><line x1="398" y1="903" x2="418" y2="903"/>
<line x1="254" y1="916" x2="262" y2="916"/><line x1="280" y1="916" x2="292" y2="916"/><line x1="298" y1="916" x2="312" y2="916"/><line x1="352" y1="916" x2="360" y2="916"/><line x1="372" y1="916" x2="390" y2="916"/>
<line x1="300" y1="929" x2="318" y2="929"/><line x1="372" y1="929" x2="390" y2="929"/><line x1="280" y1="929" x2="292" y2="929"/>
<line x1="280" y1="942" x2="298" y2="942"/><line x1="302" y1="942" x2="310" y2="942"/><line x1="353" y1="942" x2="365" y2="942"/>
<line x1="363" y1="955" x2="390" y2="955"/><line x1="280" y1="955" x2="288" y2="955"/><line x1="302" y1="955" x2="310" y2="955"/><line x1="325" y1="955" x2="338" y2="955"/>
</g>
<g font-size="3" fill="#333" text-anchor="middle">
<text x="257" y="977">-0.25 0.00 0.25</text><text x="283" y="977">-0.25 0.00 0.25</text><text x="307" y="977">-0.25 0.00 0.25</text><text x="331" y="977">-0.25 0.00 0.25</text><text x="355" y="977">-0.25 0.00 0.25</text><text x="380" y="977">-0.25 0.00 0.25</text><text x="405" y="977">-0.25 0.00 0.25</text>
</g>
<text x="327" y="1012" font-size="11" class="b" text-anchor="middle">Global SHAP Explanations</text>

<!-- pink arrows -->
<g stroke="#e6157e" stroke-width="1.2" fill="none" marker-end="url(#am)">
<line x1="493" y1="735" x2="438" y2="735"/>
<line x1="493" y1="782" x2="211" y2="774"/>
<line x1="493" y1="830" x2="197" y2="831"/>
<line x1="488" y1="942" x2="435" y2="942"/>
</g>
</svg>
</body></html>
